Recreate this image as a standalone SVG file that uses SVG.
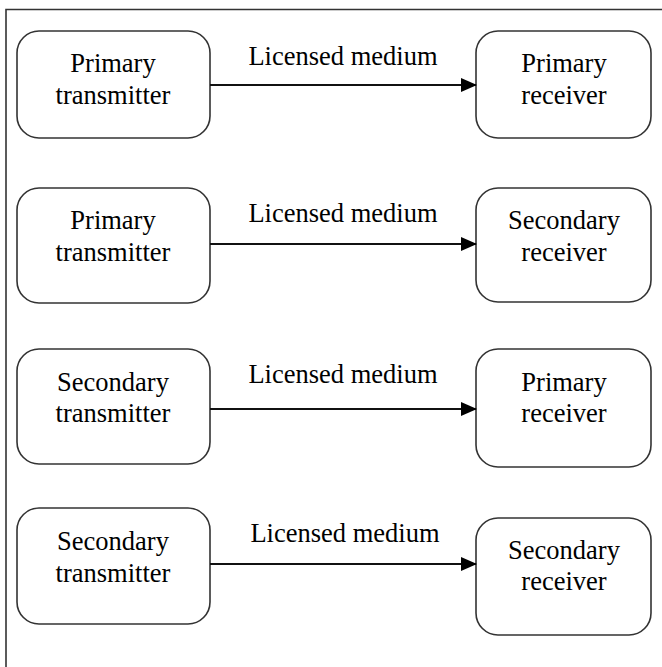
<svg xmlns="http://www.w3.org/2000/svg" width="662" height="667" viewBox="0 0 662 667">
<defs>
<marker id="arr" markerWidth="16" markerHeight="14" refX="15" refY="7" orient="auto" markerUnits="userSpaceOnUse">
<path d="M0,0 L16,7 L0,14 Z" fill="#000"/>
</marker>
<style>
.box{fill:#fff;stroke:#333;stroke-width:1.6}
.t{font-family:"Liberation Serif","Times New Roman",serif;font-size:26.5px;fill:#000;text-anchor:middle}
.c{stroke:#111;stroke-width:2;fill:none}
</style>
</defs>
<rect width="662" height="667" fill="#fff"/>
<path d="M6,667 V9.5 H662" fill="none" stroke="#333" stroke-width="1.6"/>
<g id="n1"><rect class="box" x="17" y="31" width="193" height="107" rx="22"/><text class="t" x="113" y="72">Primary</text><text class="t" x="113" y="104">transmitter</text></g>
<g id="n2"><rect class="box" x="476" y="31" width="175" height="107" rx="22"/><text class="t" x="564" y="72">Primary</text><text class="t" x="564" y="104">receiver</text></g>
<g id="n3"><rect class="box" x="17" y="188" width="193" height="115" rx="22"/><text class="t" x="113" y="229">Primary</text><text class="t" x="113" y="261">transmitter</text></g>
<g id="n4"><rect class="box" x="476" y="188" width="175" height="114" rx="22"/><text class="t" x="564" y="229">Secondary</text><text class="t" x="564" y="261">receiver</text></g>
<g id="n5"><rect class="box" x="17" y="349" width="193" height="115" rx="22"/><text class="t" x="113" y="391">Secondary</text><text class="t" x="113" y="422">transmitter</text></g>
<g id="n6"><rect class="box" x="476" y="349" width="175" height="118" rx="22"/><text class="t" x="564" y="391">Primary</text><text class="t" x="564" y="422">receiver</text></g>
<g id="n7"><rect class="box" x="17" y="508" width="193" height="116" rx="22"/><text class="t" x="113" y="550">Secondary</text><text class="t" x="113" y="582">transmitter</text></g>
<g id="n8"><rect class="box" x="476" y="518" width="175" height="117" rx="22"/><text class="t" x="564" y="559">Secondary</text><text class="t" x="564" y="590">receiver</text></g>
<g id="connectors">
<line class="c" x1="210" y1="85" x2="476" y2="85" marker-end="url(#arr)"/>
<line class="c" x1="210" y1="244" x2="476" y2="244" marker-end="url(#arr)"/>
<line class="c" x1="210" y1="409" x2="476" y2="409" marker-end="url(#arr)"/>
<line class="c" x1="210" y1="564" x2="476" y2="564" marker-end="url(#arr)"/>
<text class="t" x="343" y="65">Licensed medium</text>
<text class="t" x="343" y="222">Licensed medium</text>
<text class="t" x="343" y="383">Licensed medium</text>
<text class="t" x="345" y="542">Licensed medium</text>
</g>
</svg>
